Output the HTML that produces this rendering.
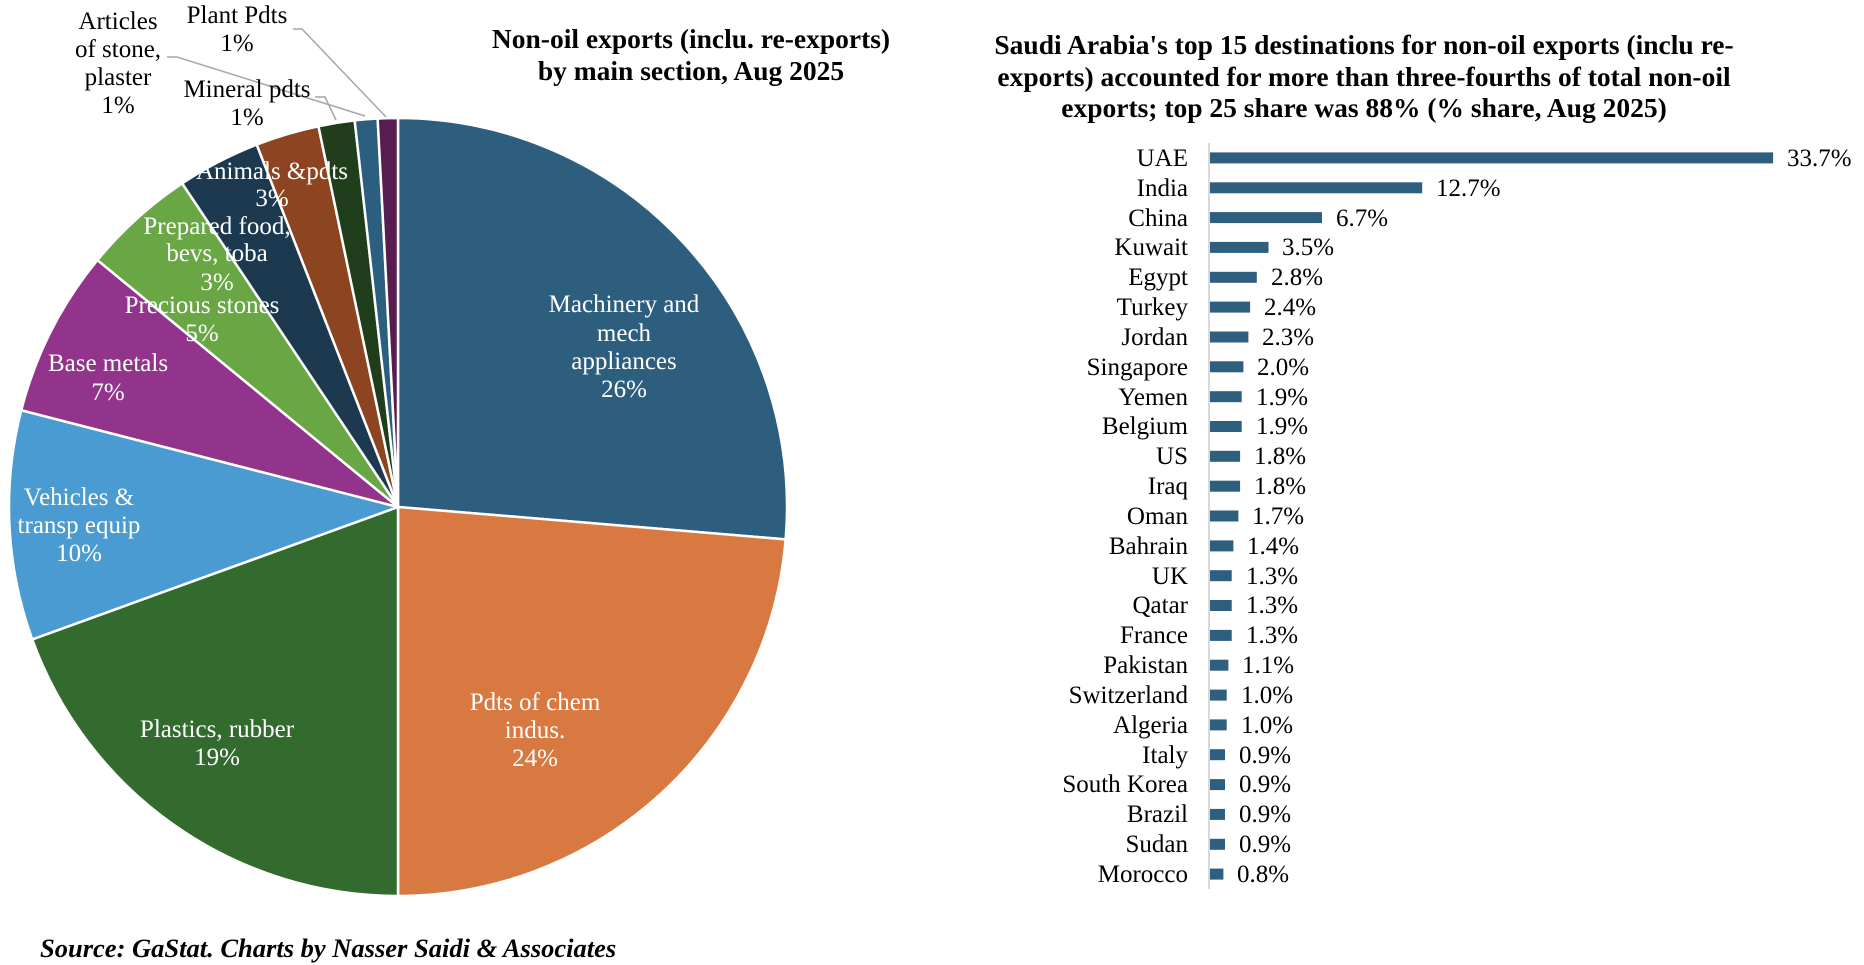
<!DOCTYPE html>
<html>
<head>
<meta charset="utf-8">
<style>
  html, body { margin: 0; padding: 0; background: #ffffff; }
  svg { display: block; }
  text { font-family: "Liberation Serif", "Times New Roman", serif; }
</style>
</head>
<body>
<svg width="1864" height="965" viewBox="0 0 1864 965" xmlns="http://www.w3.org/2000/svg">
  <rect width="1864" height="965" fill="#ffffff"/>

  <!-- ================= PIE ================= -->
  <g stroke="#ffffff" stroke-width="2.5" stroke-linejoin="round">
    <path d="M398,507 L398,118 A389,389 0 0 1 785.65,539.35 Z" fill="#2E5E7E"/>
    <path d="M398,507 L785.65,539.35 A389,389 0 0 1 398,896 Z" fill="#D87941"/>
    <path d="M398,507 L398,896 A389,389 0 0 1 32.23,639.41 Z" fill="#336A2E"/>
    <path d="M398,507 L32.23,639.41 A389,389 0 0 1 21.22,410.26 Z" fill="#4A9BD1"/>
    <path d="M398,507 L21.22,410.26 A389,389 0 0 1 97.41,260.09 Z" fill="#92338C"/>
    <path d="M398,507 L97.41,260.09 A389,389 0 0 1 182.17,183.37 Z" fill="#68A744"/>
    <path d="M398,507 L182.17,183.37 A389,389 0 0 1 256.70,144.57 Z" fill="#1D394F"/>
    <path d="M398,507 L256.70,144.57 A389,389 0 0 1 318.45,126.22 Z" fill="#8D4420"/>
    <path d="M398,507 L318.45,126.22 A389,389 0 0 1 354.64,120.42 Z" fill="#203E1C"/>
    <path d="M398,507 L354.64,120.42 A389,389 0 0 1 377.64,118.53 Z" fill="#2C5F7F"/>
    <path d="M398,507 L377.64,118.53 A389,389 0 0 1 398,118 Z" fill="#571C50"/>
  </g>

  <!-- leader lines -->
  <g stroke="#A6A6A6" stroke-width="1.5" fill="none">
    <polyline points="293,29 302,29 386,117"/>
    <polyline points="167,57 177,57 365,116"/>
    <polyline points="315,97 325,97 336,120"/>
  </g>

  <!-- pie labels (white) -->
  <g fill="#ffffff" font-size="25" text-anchor="middle">
    <text x="624" y="312">Machinery and</text>
    <text x="624" y="341">mech</text>
    <text x="624" y="369">appliances</text>
    <text x="624" y="397">26%</text>

    <text x="535" y="710">Pdts of chem</text>
    <text x="535" y="738">indus.</text>
    <text x="535" y="766">24%</text>

    <text x="217" y="737">Plastics, rubber</text>
    <text x="217" y="765">19%</text>

    <text x="79" y="505">Vehicles &amp;</text>
    <text x="79" y="533">transp equip</text>
    <text x="79" y="561">10%</text>

    <text x="108" y="371">Base metals</text>
    <text x="108" y="400">7%</text>

    <text x="202" y="313">Precious stones</text>
    <text x="202" y="341">5%</text>

    <text x="217" y="234">Prepared food,</text>
    <text x="217" y="261">bevs, toba</text>
    <text x="217" y="290">3%</text>

    <text x="272" y="179">Animals &amp;pdts</text>
    <text x="272" y="206">3%</text>
  </g>

  <!-- pie labels (black, outside) -->
  <g fill="#000000" font-size="25" text-anchor="middle">
    <text x="118" y="29">Articles</text>
    <text x="118" y="57">of stone,</text>
    <text x="118" y="85">plaster</text>
    <text x="118" y="113">1%</text>

    <text x="237" y="23">Plant Pdts</text>
    <text x="237" y="51">1%</text>

    <text x="247" y="97">Mineral pdts</text>
    <text x="247" y="125">1%</text>
  </g>

  <!-- left title -->
  <g fill="#000000" font-size="27.5" font-weight="bold" text-anchor="middle">
    <text x="691" y="48">Non-oil exports (inclu. re-exports)</text>
    <text x="691" y="80">by main section, Aug 2025</text>
  </g>

  <!-- right title -->
  <g fill="#000000" font-size="27.5" font-weight="bold" text-anchor="middle">
    <text x="1364" y="54">Saudi Arabia's top 15 destinations for non-oil exports (inclu re-</text>
    <text x="1364" y="86">exports) accounted for more than three-fourths of total non-oil</text>
    <text x="1364" y="117">exports; top 25 share was 88% (% share, Aug 2025)</text>
  </g>

  <!-- ================= BAR CHART ================= -->
  <g id="bars" fill="#2E5F7F"></g>
  <line x1="1209" y1="143" x2="1209" y2="889" stroke="#D9D9D9" stroke-width="2"/>

  <g fill="#2E5F7F">
    <rect x="1210" y="152.4" width="563.1" height="11"/>
    <rect x="1210" y="182.3" width="212.2" height="11"/>
    <rect x="1210" y="212.1" width="112.0" height="11"/>
    <rect x="1210" y="241.9" width="58.5" height="11"/>
    <rect x="1210" y="271.8" width="46.8" height="11"/>
    <rect x="1210" y="301.6" width="40.1" height="11"/>
    <rect x="1210" y="331.5" width="38.4" height="11"/>
    <rect x="1210" y="361.3" width="33.4" height="11"/>
    <rect x="1210" y="391.2" width="31.7" height="11"/>
    <rect x="1210" y="421.0" width="31.7" height="11"/>
    <rect x="1210" y="450.8" width="30.1" height="11"/>
    <rect x="1210" y="480.7" width="30.1" height="11"/>
    <rect x="1210" y="510.5" width="28.4" height="11"/>
    <rect x="1210" y="540.4" width="23.4" height="11"/>
    <rect x="1210" y="570.2" width="21.7" height="11"/>
    <rect x="1210" y="600.0" width="21.7" height="11"/>
    <rect x="1210" y="629.9" width="21.7" height="11"/>
    <rect x="1210" y="659.7" width="18.4" height="11"/>
    <rect x="1210" y="689.6" width="16.7" height="11"/>
    <rect x="1210" y="719.4" width="16.7" height="11"/>
    <rect x="1210" y="749.2" width="15.0" height="11"/>
    <rect x="1210" y="779.1" width="15.0" height="11"/>
    <rect x="1210" y="808.9" width="15.0" height="11"/>
    <rect x="1210" y="838.8" width="15.0" height="11"/>
    <rect x="1210" y="868.6" width="13.4" height="11"/>
  </g>

  <!-- category labels -->
  <g fill="#000000" font-size="25" text-anchor="end">
    <text x="1188" y="166">UAE</text>
    <text x="1188" y="196">India</text>
    <text x="1188" y="226">China</text>
    <text x="1188" y="255">Kuwait</text>
    <text x="1188" y="285">Egypt</text>
    <text x="1188" y="315">Turkey</text>
    <text x="1188" y="345">Jordan</text>
    <text x="1188" y="375">Singapore</text>
    <text x="1188" y="405">Yemen</text>
    <text x="1188" y="434">Belgium</text>
    <text x="1188" y="464">US</text>
    <text x="1188" y="494">Iraq</text>
    <text x="1188" y="524">Oman</text>
    <text x="1188" y="554">Bahrain</text>
    <text x="1188" y="584">UK</text>
    <text x="1188" y="613">Qatar</text>
    <text x="1188" y="643">France</text>
    <text x="1188" y="673">Pakistan</text>
    <text x="1188" y="703">Switzerland</text>
    <text x="1188" y="733">Algeria</text>
    <text x="1188" y="763">Italy</text>
    <text x="1188" y="792">South Korea</text>
    <text x="1188" y="822">Brazil</text>
    <text x="1188" y="852">Sudan</text>
    <text x="1188" y="882">Morocco</text>
  </g>

  <!-- value labels -->
  <g fill="#000000" font-size="25" text-anchor="start">
    <text x="1787" y="166">33.7%</text>
    <text x="1436" y="196">12.7%</text>
    <text x="1336" y="226">6.7%</text>
    <text x="1282" y="255">3.5%</text>
    <text x="1271" y="285">2.8%</text>
    <text x="1264" y="315">2.4%</text>
    <text x="1262" y="345">2.3%</text>
    <text x="1257" y="375">2.0%</text>
    <text x="1256" y="405">1.9%</text>
    <text x="1256" y="434">1.9%</text>
    <text x="1254" y="464">1.8%</text>
    <text x="1254" y="494">1.8%</text>
    <text x="1252" y="524">1.7%</text>
    <text x="1247" y="554">1.4%</text>
    <text x="1246" y="584">1.3%</text>
    <text x="1246" y="613">1.3%</text>
    <text x="1246" y="643">1.3%</text>
    <text x="1242" y="673">1.1%</text>
    <text x="1241" y="703">1.0%</text>
    <text x="1241" y="733">1.0%</text>
    <text x="1239" y="763">0.9%</text>
    <text x="1239" y="792">0.9%</text>
    <text x="1239" y="822">0.9%</text>
    <text x="1239" y="852">0.9%</text>
    <text x="1237" y="882">0.8%</text>
  </g>

  <!-- source -->
  <text x="40" y="957" font-size="26.5" font-weight="bold" font-style="italic" fill="#000000">Source: GaStat. Charts by Nasser Saidi &amp; Associates</text>
</svg>
</body>
</html>
